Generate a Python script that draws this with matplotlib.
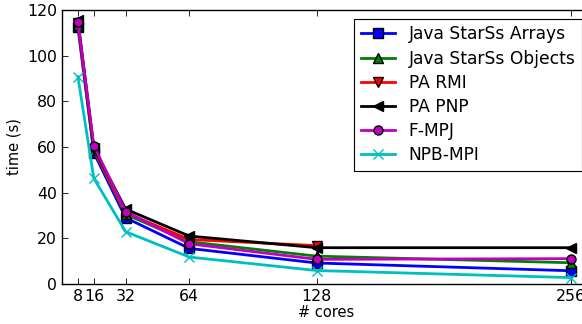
import matplotlib
matplotlib.use("Agg")
import matplotlib.pyplot as plt

cores = [8, 16, 32, 64, 128, 256]
starss_arrays = [112.5, 57.5, 29.0, 15.6, 9.2, 5.8]
starss_objects = [113.5, 58.5, 30.5, 18.5, 12.2, 9.3]
pa_rmi_cores = [8, 16, 32, 64, 128]
pa_rmi = [114.5, 59.0, 31.2, 19.5, 16.8]
pa_pnp = [115.5, 59.5, 32.8, 21.0, 15.9, 15.9]
fmpj = [114.9, 60.6, 31.7, 17.6, 10.8, 11.1]
npb_mpi = [90.8, 46.3, 22.9, 11.8, 5.9, 2.8]

plt.rcParams["font.family"] = "DejaVu Sans"
plt.rcParams["font.size"] = 11

fig = plt.figure(figsize=(5.82, 3.24), dpi=100)
W, H = 582, 324
left, right, top, bottom = 62, 591, 10, 284
ax = fig.add_axes([left / W, 1 - bottom / H, (right - left) / W, (bottom - top) / H])

lw = 2
ms = 6.5
ax.plot(cores, starss_arrays, color="b", marker="s", lw=lw, ms=ms, mec="k", label="Java StarSs Arrays")
ax.plot(cores, starss_objects, color="g", marker="^", lw=lw, ms=ms, mec="k", label="Java StarSs Objects")
ax.plot(pa_rmi_cores, pa_rmi, color="r", marker="v", lw=lw, ms=ms, mec="k", label="PA RMI")
ax.plot(cores, pa_pnp, color="k", marker="<", lw=lw, ms=ms, mec="k", label="PA PNP")
ax.plot(cores, fmpj, color="m", marker="o", lw=lw, ms=ms, mec="k", label="F-MPJ")
ax.plot(cores, npb_mpi, color="c", marker="x", lw=lw, ms=ms, mec="c", label="NPB-MPI")

ax.set_xlim(0, 266)
ax.set_ylim(0, 120)
ax.set_xticks(cores)
ax.set_yticks([0, 20, 40, 60, 80, 100, 120])
ax.tick_params(direction="in", top=True, right=True, length=4, width=0.6, labelsize=11.3)
for s in ax.spines.values():
    s.set_linewidth(1.0)

ax.set_xlabel("# cores", labelpad=1, fontsize=10.5)
ax.set_ylabel("time (s)", fontsize=10.5)

leg = ax.legend(loc="upper right", fancybox=False, framealpha=1, edgecolor="k",
                borderaxespad=0.5, labelspacing=0.36, handlelength=2.0,
                borderpad=0.4, fontsize=12.3)
leg.get_frame().set_linewidth(0.8)

fig.savefig("out.png", dpi=100)
